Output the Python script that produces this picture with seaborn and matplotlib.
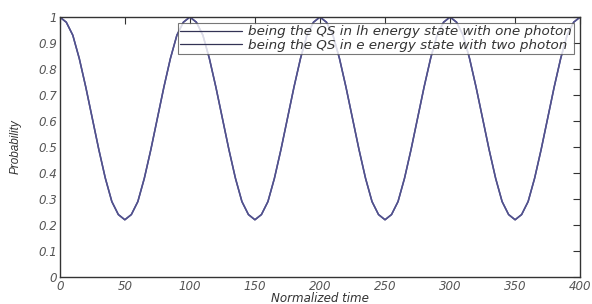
import matplotlib
matplotlib.use("Agg")
import matplotlib.pyplot as plt
import seaborn as sns
import pandas as pd

time = [0, 5, 10, 15, 20, 25, 30, 35, 40, 45, 50, 55, 60, 65, 70, 75, 80, 85, 90, 95,
        100, 105, 110, 115, 120, 125, 130, 135, 140, 145, 150, 155, 160, 165, 170, 175, 180, 185, 190, 195,
        200, 205, 210, 215, 220, 225, 230, 235, 240, 245, 250, 255, 260, 265, 270, 275, 280, 285, 290, 295,
        300, 305, 310, 315, 320, 325, 330, 335, 340, 345, 350, 355, 360, 365, 370, 375, 380, 385, 390, 395, 400]
prob_lh_one = [1.00, 0.98, 0.93, 0.84, 0.73, 0.61, 0.49, 0.38, 0.29, 0.24, 0.22, 0.24, 0.29, 0.38, 0.49, 0.61, 0.73, 0.84, 0.93, 0.98,
               1.00, 0.98, 0.93, 0.84, 0.73, 0.61, 0.49, 0.38, 0.29, 0.24, 0.22, 0.24, 0.29, 0.38, 0.49, 0.61, 0.73, 0.84, 0.93, 0.98,
               1.00, 0.98, 0.93, 0.84, 0.73, 0.61, 0.49, 0.38, 0.29, 0.24, 0.22, 0.24, 0.29, 0.38, 0.49, 0.61, 0.73, 0.84, 0.93, 0.98,
               1.00, 0.98, 0.93, 0.84, 0.73, 0.61, 0.49, 0.38, 0.29, 0.24, 0.22, 0.24, 0.29, 0.38, 0.49, 0.61, 0.73, 0.84, 0.93, 0.98,
               1.00]
prob_e_two = list(prob_lh_one)

labels = ["being the QS in lh energy state with one photon",
          "being the QS in e energy state with two photon"]

sns.set_style("white")
plt.rcParams['font.family'] = ['DejaVu Sans']

fig = plt.figure(figsize=(5.92, 3.04), dpi=100)
ax = fig.add_axes([0.101, 0.089, 0.879, 0.855])

df1 = pd.DataFrame({"t": time, "p": prob_lh_one})
df2 = pd.DataFrame({"t": time, "p": prob_e_two})
sns.lineplot(data=df1, x="t", y="p", ax=ax, color="#4a4a88", lw=1.1, label=labels[0])
sns.lineplot(data=df2, x="t", y="p", ax=ax, color="#52528e", lw=1.1, label=labels[1])

ax.set_xlim(0, 400)
ax.set_ylim(0, 1)
ax.set_xticks(range(0, 401, 50))
ax.set_yticks([i / 10 for i in range(11)])
ax.set_yticklabels(["0", "0.1", "0.2", "0.3", "0.4", "0.5", "0.6", "0.7", "0.8", "0.9", "1"])
ax.tick_params(direction="in", length=5, top=True, right=True, labelsize=8.6, colors="#333333", width=0.8, pad=2)
for lab in ax.get_xticklabels() + ax.get_yticklabels():
    lab.set_fontstyle("italic")
    lab.set_color("#555555")
for s in ax.spines.values():
    s.set_color("#333333")
    s.set_linewidth(1.0)

ax.set_xlabel("Normalized time", fontsize=8.6, fontstyle="italic", color="#333333", labelpad=-0.5)
ax.set_ylabel("Probability", fontsize=8.5, fontstyle="italic", color="#333333",
              family=["Liberation Sans Narrow", "Liberation Sans"], labelpad=12)

leg = ax.legend(loc="upper right", bbox_to_anchor=(0.988, 0.976), fontsize=9.7, frameon=True, fancybox=False,
                handlelength=4.6, borderpad=0.15, labelspacing=0.05, handletextpad=0.45, borderaxespad=0.0)
leg.get_frame().set_edgecolor("#555555")
leg.get_frame().set_linewidth(0.8)
for t in leg.get_texts():
    t.set_fontstyle("italic")
    t.set_color("#333333")
for h in leg.get_lines():
    h.set_color("#333355")
    h.set_linewidth(0.9)

fig.savefig("out.png", dpi=100)
